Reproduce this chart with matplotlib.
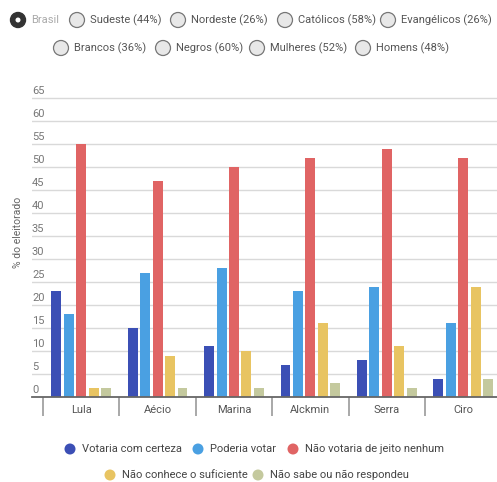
import matplotlib
matplotlib.use("Agg")
import matplotlib.pyplot as plt
from matplotlib.patches import Circle
from matplotlib.transforms import offset_copy
import numpy as np

plt.rcParams['font.family'] = ['Roboto', 'DejaVu Sans']

candidates = ["Lula", "Aécio", "Marina", "Alckmin", "Serra", "Ciro"]
series_names = ["Votaria com certeza", "Poderia votar", "Não votaria de jeito nenhum",
                "Não conhece o suficiente", "Não sabe ou não respondeu"]
votaria = [23, 15, 11, 7, 8, 4]
poderia = [18, 27, 28, 23, 24, 16]
nao_votaria = [55, 47, 50, 52, 54, 52]
nao_conhece = [2, 9, 10, 16, 11, 24]
nao_sabe = [2, 2, 2, 3, 2, 4]
series = [votaria, poderia, nao_votaria, nao_conhece, nao_sabe]
colors = ["#3b4fb5", "#4aa0e2", "#e06464", "#e8c462", "#c4c99e"]

yticks = list(range(0, 70, 5))
filters_row1 = ["Brasil", "Sudeste (44%)", "Nordeste (26%)", "Católicos (58%)", "Evangélicos (26%)"]
filters_row2 = ["Brancos (36%)", "Negros (60%)", "Mulheres (52%)", "Homens (48%)"]

W, H = 497, 482
fig = plt.figure(figsize=(W / 100, H / 100), dpi=100)

left_px, right_px = 32, 497
bottom_px = 397
top_px = 96
ax = fig.add_axes([left_px / W, 1 - bottom_px / H, (right_px - left_px) / W,
                   (bottom_px - top_px) / H])
ax.set_ylim(0, 65 * (bottom_px - top_px) / (bottom_px - 98))

x = np.arange(len(candidates))
step = 0.163
width = 0.13
for i, (vals, c) in enumerate(zip(series, colors)):
    ax.bar(x + (i - 2) * step, vals, width=width, color=c, zorder=3)

cat_w = 76.4
ax.set_xlim(-0.5 - (43 - left_px) / cat_w, -0.5 + (right_px - 43) / cat_w)

for s in ["top", "right", "left"]:
    ax.spines[s].set_visible(False)
ax.spines["bottom"].set_color("#666666")
ax.spines["bottom"].set_linewidth(1.3)
ax.spines["bottom"].set_zorder(4)

ax.set_yticks(yticks)
ax.yaxis.grid(True, color="#d9d9d9", linewidth=1.0, zorder=0)
ax.tick_params(axis="y", length=0, pad=0, labelsize=8, labelcolor="#777777")
for lab in ax.get_yticklabels():
    lab.set_horizontalalignment("left")
    lab.set_verticalalignment("bottom")
    lab.set_transform(offset_copy(lab.get_transform(), fig=fig, x=0, y=2, units="dots"))

ax.set_xticks(x)
ax.set_xticklabels(candidates)
ax.tick_params(axis="x", which="major", length=0, pad=6, labelsize=8, labelcolor="#555555")
ax.set_xticks(np.arange(-0.5, len(candidates) - 0.5, 1.0), minor=True)
ax.tick_params(axis="x", which="minor", length=14, width=1.2, color="#999999")

fig.text(18 / W, 1 - 232 / H, "% do eleitorado", rotation=90, ha="center", va="center",
         fontsize=7.5, color="#666666")


def radio(cx, cy, text, selected=False):
    r = 7.5
    if selected:
        fig.patches.append(Circle((cx, cy), r, transform=None, facecolor="#333333",
                                  edgecolor="#333333"))
        fig.patches.append(Circle((cx, cy), 2.5, transform=None, facecolor="white",
                                  edgecolor="none"))
    else:
        fig.patches.append(Circle((cx, cy), r, transform=None, facecolor="#e8e8e8",
                                  edgecolor="#777777", linewidth=0.9))
    fig.text((cx + 13) / W, cy / H, text, ha="left", va="center", fontsize=8,
             color="#aaaaaa" if selected else "#555555")


row1_x = [18, 77, 178, 285, 388]
row2_x = [61, 163, 257, 363]
for i, t in enumerate(filters_row1):
    radio(row1_x[i], H - 20, t, selected=(i == 0))
for i, t in enumerate(filters_row2):
    radio(row2_x[i], H - 48, t)

leg_pos = [(70, 449), (198, 449), (293, 449), (110, 475), (258, 475)]
for (lx, ly), name, c in zip(leg_pos, series_names, colors):
    fig.patches.append(Circle((lx, H - ly), 5.5, transform=None, facecolor=c, edgecolor="none"))
    fig.text((lx + 12) / W, (H - ly) / H, name, ha="left", va="center", fontsize=8,
             color="#444444")

fig.savefig("out.png", dpi=100)
